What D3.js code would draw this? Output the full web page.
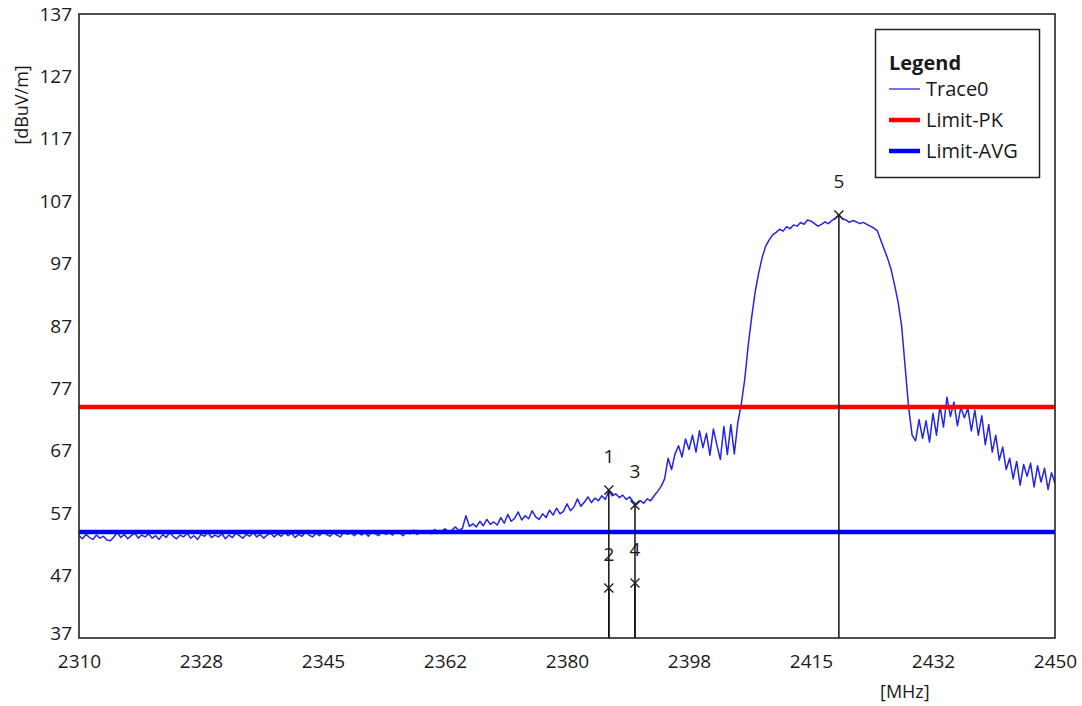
<!DOCTYPE html>
<html>
<head>
<meta charset="utf-8">
<script src="https://cdn.jsdelivr.net/npm/d3@7"></script>
<style>
  html, body { margin: 0; padding: 0; background: #fff; }
  svg { display: block; }
  text { font-family: "Segoe UI", "Open Sans", "Noto Sans", "DejaVu Sans", sans-serif; fill: #1a1a1a; }
</style>
</head>
<body>
<svg id="chart" width="1082" height="706"></svg>
<script>
// ---------- data ----------
const xDomain = [2310, 2450];
const yDomain = [37, 137];
const xTickValues = [2310, 2327.5, 2345, 2362.5, 2380, 2397.5, 2415, 2432.5, 2450];
const xTickLabels = ["2310", "2328", "2345", "2362", "2380", "2398", "2415", "2432", "2450"];
const yTickValues = [37, 47, 57, 67, 77, 87, 97, 107, 117, 127, 137];
const yTickLabels = ["37", "47", "57", "67", "77", "87", "97", "107", "117", "127", "137"];

// sweep frequencies (MHz), 0.5 MHz spacing
const sweepFreqs = d3.range(2310, 2450.001, 0.5);
// Trace0 levels (dBuV/m)
const traceLevels = [
  53.4, 52.9, 53.6, 53.1, 52.8, 53.5, 53.0, 53.3, 52.7, 52.6, 53.2, 53.9, 53.1, 53.6, 52.9, 53.4, 53.8, 53.0, 53.5, 53.2,
  53.7, 53.0, 53.4, 52.8, 53.6, 53.1, 53.9, 53.3, 52.9, 53.5, 53.2, 53.8, 53.0, 53.4, 52.8, 53.6, 53.3, 53.9, 53.1, 53.5,
  53.2, 53.7, 52.9, 53.5, 53.1, 53.8, 53.4, 53.0, 53.6, 53.3, 53.9, 53.2, 53.6, 53.0, 53.5, 53.8, 53.2, 53.7, 53.3, 53.9,
  53.4, 53.8, 53.1, 53.6, 53.3, 54.0, 53.5, 53.2, 53.8, 53.4, 54.1, 53.6, 53.3, 53.9, 53.5, 53.2, 54.0, 53.6, 53.8, 53.4,
  54.0, 53.5, 53.9, 53.3, 54.1, 53.7, 53.4, 54.2, 53.6, 53.9, 53.5, 54.2, 53.8, 53.4, 54.1, 53.7, 54.3, 53.6, 54.0, 53.8,
  54.2, 53.7, 54.4, 53.9, 54.1, 54.5, 54.0, 54.3, 54.8, 54.2, 54.6, 56.6, 54.9, 55.3, 54.8, 55.7, 55.0, 56.0, 55.2, 55.6,
  55.1, 56.3, 55.4, 56.8, 55.7, 56.2, 57.2, 55.9, 56.6, 56.1, 57.4, 56.4, 56.0, 56.9, 56.3, 57.5, 56.7, 57.8, 56.9, 57.3,
  58.5, 57.4, 58.0, 59.3, 58.1, 58.8, 59.6, 58.7, 59.4, 59.0, 59.8, 59.2, 60.6, 59.8, 60.1, 59.5, 59.9, 59.2, 59.6, 58.8,
  58.4, 59.0, 58.6, 59.3, 59.0, 59.8, 60.5, 61.3, 62.5, 65.8, 64.0, 66.5, 67.8, 66.0, 68.9, 67.2, 69.5, 66.8, 70.2, 67.5,
  69.8, 66.3, 70.5, 67.9, 65.6, 70.9, 66.4, 71.2, 66.5, 71.5, 74.5, 78.5, 84.0, 88.5, 92.5, 95.5, 98.0, 99.8, 100.8, 101.6,
  102.0, 102.5, 102.2, 102.9, 102.6, 103.2, 103.0, 103.6, 103.3, 104.0, 103.8, 103.4, 103.0, 103.3, 103.7, 103.4, 103.9, 104.3, 104.8, 104.2,
  104.0, 103.6, 103.9, 103.7, 103.4, 103.6, 103.3, 103.0, 102.7, 102.3, 100.8, 99.3, 97.8, 96.0, 93.5, 90.8, 87.0, 80.5, 74.0, 69.5,
  68.6, 72.0, 69.0, 71.8, 68.4, 73.0, 69.5, 74.2, 70.8, 75.6, 72.5, 74.8, 71.0, 74.0, 72.3, 73.8, 70.2, 73.5, 69.5, 72.6,
  68.0, 71.2, 66.8, 69.5, 65.5, 67.6, 64.0, 65.8, 62.5, 65.3, 61.5, 64.8, 62.9, 65.0, 61.2, 64.6, 62.0, 64.2, 60.8, 63.5,
  61.8
];

const limitNames = ["Limit-PK", "Limit-AVG"];
const limitLevels = [74, 54];
const limitColors = ["#ff0000", "#0000ff"];

const markerIds = ["1", "2", "3", "4", "5"];
const markerFreqs = [2386.0, 2386.0, 2389.75, 2389.75, 2419.0];
const markerLevels = [60.7, 45.0, 58.3, 45.8, 104.8];

const legendNames = ["Trace0", "Limit-PK", "Limit-AVG"];
const legendColors = ["#2b2bd9", "#ff0000", "#0000ff"];
const legendWidths = [1.3, 4.5, 4.5];

// ---------- layout ----------
const FONT = '"Segoe UI", "Open Sans", "Noto Sans", sans-serif';
const FS = 19;
const svg = d3.select("#chart");
const plot = { left: 79, top: 14, right: 1055, bottom: 638 };

const x = d3.scaleLinear().domain(xDomain).range([plot.left, plot.right]);
const y = d3.scaleLinear().domain(yDomain).range([plot.bottom, plot.top]);

svg.append("rect").attr("width", 1082).attr("height", 706).attr("fill", "#fff");

svg.append("defs").append("clipPath").attr("id", "clip")
  .append("rect")
  .attr("x", plot.left).attr("y", plot.top)
  .attr("width", plot.right - plot.left).attr("height", plot.bottom - plot.top);

// axes (labels only)
const xAxis = d3.axisBottom(x).tickValues(xTickValues)
  .tickFormat((d, i) => xTickLabels[i]).tickSize(0).tickPadding(17);
const gx = svg.append("g").attr("transform", `translate(0,${plot.bottom})`).call(xAxis);
gx.select(".domain").remove();
gx.selectAll("text").attr("font-size", FS).attr("fill", "#1a1a1a").style("font-family", FONT);

const yAxis = d3.axisLeft(y).tickValues(yTickValues)
  .tickFormat((d, i) => yTickLabels[i]).tickSize(0).tickPadding(7);
const gy = svg.append("g").attr("transform", `translate(${plot.left},0)`).call(yAxis);
gy.select(".domain").remove();
gy.selectAll("text").attr("font-size", FS).attr("fill", "#1a1a1a").style("font-family", FONT);
// nudge the bottom-most y label up slightly so it does not collide with the first x label
gy.selectAll(".tick").filter(d => d === yDomain[0]).select("text").attr("dy", "0.1em");

// axis titles
svg.append("text")
  .attr("transform", "translate(28,105) rotate(-90)")
  .attr("text-anchor", "middle").attr("font-size", FS - 1)
  .text("[dBuV/m]");
svg.append("text")
  .attr("x", 880).attr("y", 698)
  .attr("font-size", FS - 1)
  .text("[MHz]");

// trace
const traceData = sweepFreqs.map((f, i) => [f, traceLevels[i]]);
const line = d3.line().x(d => x(d[0])).y(d => y(d[1]));
const pg = svg.append("g").attr("clip-path", "url(#clip)");
pg.append("path").datum(traceData)
  .attr("d", line)
  .attr("fill", "none")
  .attr("stroke", "#2424e6")
  .attr("stroke-width", 1.5)
  .attr("stroke-linejoin", "round");

// limit lines
pg.selectAll("line.limit").data(limitLevels).enter().append("line")
  .attr("class", "limit")
  .attr("x1", plot.left).attr("x2", plot.right)
  .attr("y1", d => y(d)).attr("y2", d => y(d))
  .attr("stroke", (d, i) => limitColors[i])
  .attr("stroke-width", 4.5);

// markers
const markers = markerIds.map((id, i) => ({ id, f: markerFreqs[i], v: markerLevels[i] }));
const mg = svg.append("g");
mg.selectAll("line.mline").data(markers).enter().append("line")
  .attr("x1", d => x(d.f)).attr("x2", d => x(d.f))
  .attr("y1", d => y(d.v)).attr("y2", plot.bottom)
  .attr("stroke", "#111").attr("stroke-width", 1.5);
mg.selectAll("g.mx").data(markers).enter().append("g")
  .attr("transform", d => `translate(${x(d.f)},${y(d.v)})`)
  .each(function () {
    const g = d3.select(this);
    g.append("line").attr("x1", -4.5).attr("y1", -4.5).attr("x2", 4.5).attr("y2", 4.5)
      .attr("stroke", "#222").attr("stroke-width", 1.4);
    g.append("line").attr("x1", -4.5).attr("y1", 4.5).attr("x2", 4.5).attr("y2", -4.5)
      .attr("stroke", "#222").attr("stroke-width", 1.4);
  });
mg.selectAll("text.mlabel").data(markers).enter().append("text")
  .attr("x", d => x(d.f)).attr("y", d => y(d.v) - 27)
  .attr("text-anchor", "middle").attr("font-size", FS)
  .text(d => d.id);

// frame
svg.append("rect")
  .attr("x", plot.left).attr("y", plot.top)
  .attr("width", plot.right - plot.left).attr("height", plot.bottom - plot.top)
  .attr("fill", "none").attr("stroke", "#222").attr("stroke-width", 1.6);

// legend
const lg = svg.append("g");
lg.append("rect").attr("x", 875.5).attr("y", 29.5).attr("width", 164).attr("height", 148)
  .attr("fill", "#fff").attr("stroke", "#222").attr("stroke-width", 1.5);
lg.append("text").attr("x", 889).attr("y", 70).attr("font-size", 20).attr("font-weight", "bold")
  .text("Legend");
legendNames.forEach((n, i) => {
  const yy = 89 + i * 31;
  lg.append("line").attr("x1", 889).attr("x2", 920).attr("y1", yy).attr("y2", yy)
    .attr("stroke", legendColors[i]).attr("stroke-width", legendWidths[i]);
  lg.append("text").attr("x", 926).attr("y", yy + 7).attr("font-size", 20).text(n);
});
</script>
</body>
</html>
